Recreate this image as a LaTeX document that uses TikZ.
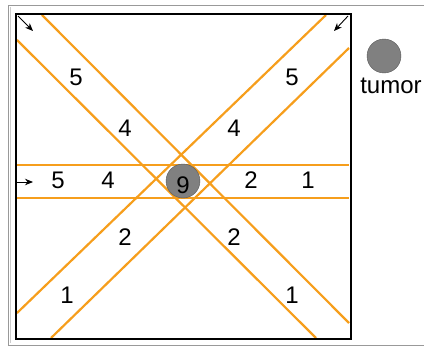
\documentclass[tikz,border=0pt]{standalone}
\usepackage{fontspec}
\setmainfont{Liberation Sans}
\usetikzlibrary{arrows.meta, positioning}
\definecolor{beam}{RGB}{246,158,28}
\definecolor{tumorgray}{RGB}{128,128,128}

\begin{document}
\begin{tikzpicture}[x=1pt, y=-1pt, >={Stealth[length=8pt, width=6.5pt]},
      beamline/.style={draw=beam, line width=2.2pt},
      num/.style={font=\fontsize{24}{24}\selectfont, inner sep=0pt},
      dot/.style={circle, draw=black!65, fill=tumorgray, minimum size=34pt, inner sep=0pt},
      dirarrow/.style={->, line width=0.9pt}]

    \useasboundingbox (0,0) rectangle (424,348);

    % window frame
    \draw[gray!80, line width=0.7pt] (424,5) -- (8,5) -- (8,345) -- (424,345);
    \draw[gray!40, line width=0.5pt] (10.5,7) -- (10.5,343);

    % beams
    \coordinate (h1a) at (16,165);  \coordinate (h1b) at (349,165);
    \coordinate (h2a) at (16,198);  \coordinate (h2b) at (349,198);
    \coordinate (d1a) at (42,15);   \coordinate (d1b) at (349,323);
    \coordinate (d2a) at (17,40);   \coordinate (d2b) at (316,338);
    \coordinate (e1a) at (326,15);  \coordinate (e1b) at (17,313);
    \coordinate (e2a) at (349,48);  \coordinate (e2b) at (51,338);
    \foreach \s in {h1,h2,d1,d2,e1,e2}
        \draw[beamline] (\s a) -- (\s b);

    % phantom
    \draw[line width=2.2pt] (16,14) rectangle (351,339);

    % tumour
    \node[dot] (tumor) at (183,181) {};
    \node[num] (nine) at (183,185) {9};

    % legend
    \node[dot] (legdot) at (384,56) {};
    \node[num, anchor=base] (legtext) at (391,93) {tumor};

    % beam directions
    \coordinate (a1s) at (18,16);  \coordinate (a1e) at (33,31);
    \coordinate (a2s) at (348,16); \coordinate (a2e) at (334,31);
    \coordinate (a3s) at (17,182); \coordinate (a3e) at (33,182);
    \foreach \s in {a1,a2,a3}
        \draw[dirarrow] (\s s) -- (\s e);

    % dose labels
    \node[num] (dl5) at (76,77)   {5};
    \node[num] (dl4) at (125,128) {4};
    \node[num] (dr5) at (292,77)  {5};
    \node[num] (dr4) at (234,128) {4};
    \node[num] (hl5) at (58,180)  {5};
    \node[num] (hl4) at (108,180) {4};
    \node[num] (hr2) at (251,180) {2};
    \node[num] (hr1) at (308,180) {1};
    \node[num] (ul2) at (125,237) {2};
    \node[num] (ur2) at (234,237) {2};
    \node[num] (ul1) at (67,295)  {1};
    \node[num] (ur1) at (292,295) {1};

\end{tikzpicture}
\end{document}
